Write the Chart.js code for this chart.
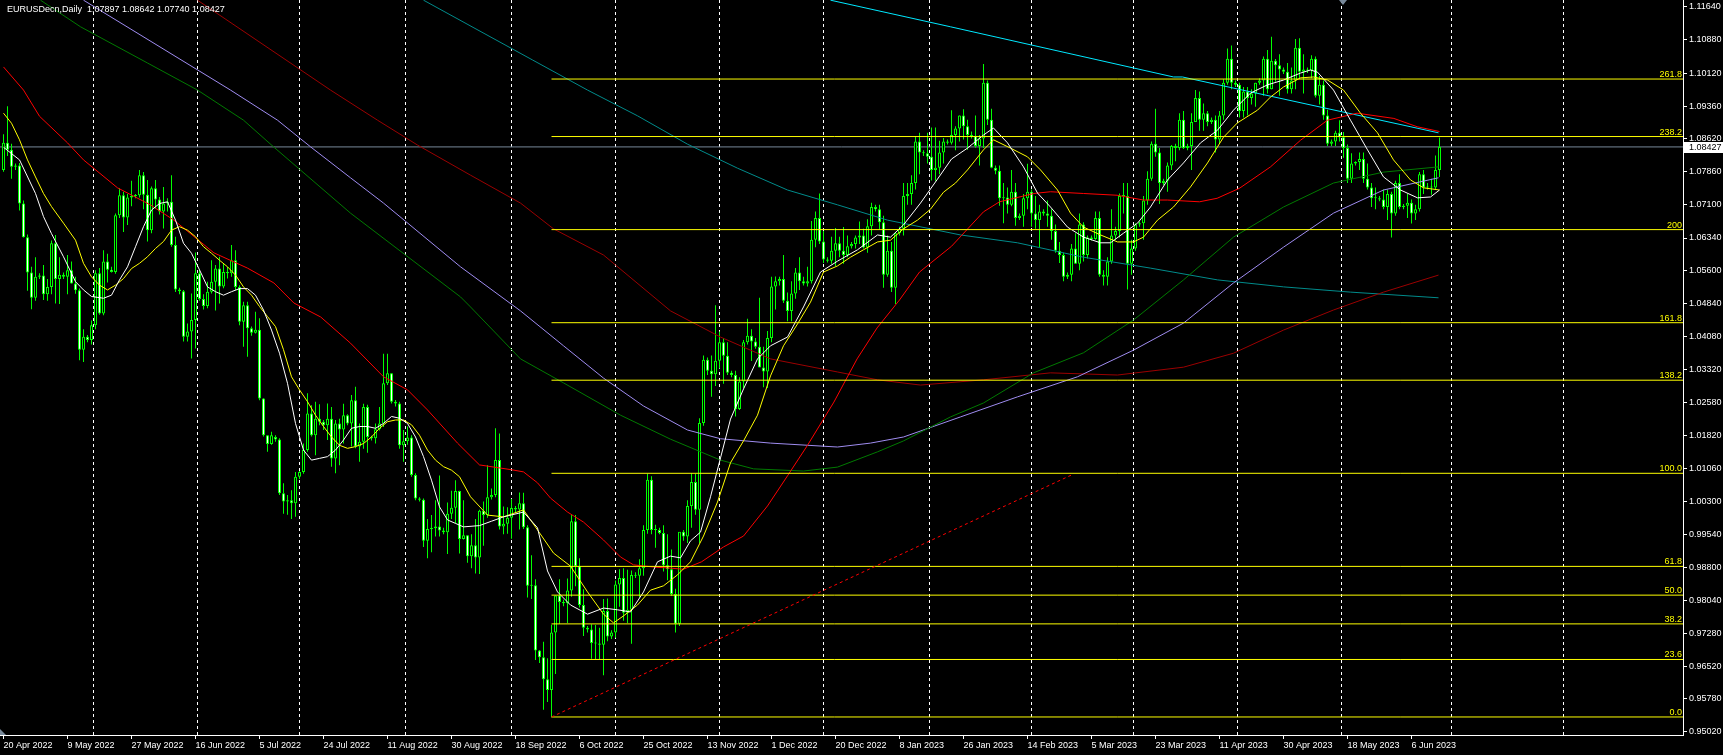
<!DOCTYPE html>
<html>
<head>
<meta charset="utf-8">
<script src="https://cdn.jsdelivr.net/npm/chart.js@4.4.0/dist/chart.umd.min.js"></script>
<style>
  html, body { margin: 0; padding: 0; background: #000; }
  #wrap { width: 1723px; height: 755px; }
</style>
</head>
<body>
<div id="wrap"><canvas id="chart" width="1723" height="755"></canvas></div>
<script>
const symbolTitle = 'EURUSDecn,Daily  1.07897 1.08642 1.07740 1.08427';
const bidPrice = 1.08427;

// x axis: one bar per trading day (Sunday bars included), bar 0 = 20 Apr 2022
const dateTickBars = [0, 16, 32, 48, 64, 80, 96, 112, 128, 144, 160, 176, 192, 208, 224, 240, 256, 272, 288, 304, 320, 336, 352];
const dateLabels = ['20 Apr 2022', '9 May 2022', '27 May 2022', '16 Jun 2022', '5 Jul 2022', '24 Jul 2022', '11 Aug 2022',
  '30 Aug 2022', '18 Sep 2022', '6 Oct 2022', '25 Oct 2022', '13 Nov 2022', '1 Dec 2022', '20 Dec 2022', '8 Jan 2023',
  '26 Jan 2023', '14 Feb 2023', '5 Mar 2023', '23 Mar 2023', '11 Apr 2023', '30 Apr 2023', '18 May 2023', '6 Jun 2023'];
const monthStartBars = [9, 36, 61, 87, 114, 140, 166, 192, 218, 245, 269, 296, 321, 348, 376];

const priceLabels = ['1.11640', '1.10880', '1.10120', '1.09360', '1.08620', '1.07860', '1.07100', '1.06340', '1.05600',
  '1.04840', '1.04080', '1.03320', '1.02580', '1.01820', '1.01060', '1.00300', '0.99540', '0.98800', '0.98040',
  '0.97280', '0.96520', '0.95780', '0.95020'];

// fibonacci expansion drawn from the 28 Sep 2022 low
const fibStartBar = 137;
const fibLow = 0.95364;
const fibHigh = 1.00948;
const fibLevels = [0, 23.6, 38.2, 50, 61.8, 100, 138.2, 161.8, 200, 238.2, 261.8];
const fibLabels = ['0.0', '23.6', '38.2', '50.0', '61.8', '100.0', '138.2', '161.8', '200', '238.2', '261.8'];

const trendLine = [[137, 0.95364], [267, 1.00909]];

// daily candles [open, high, low, close]
const ohlc = [
  [1.0790,1.0872,1.0786,1.0852],[1.0852,1.0936,1.0822,1.0836],[1.0836,1.0850,1.0770,1.0797],
  [1.0797,1.0805,1.0790,1.0800],[1.0800,1.0806,1.0697,1.0713],[1.0713,1.0720,1.0635,1.0636],[1.0636,1.0642,1.0513,1.0555],[1.0555,1.0568,1.0471,1.0497],[1.0497,1.0590,1.0490,1.0545],
  [1.0545,1.0553,1.0540,1.0548],[1.0548,1.0572,1.0492,1.0505],[1.0505,1.0540,1.0490,1.0522],[1.0522,1.0628,1.0505,1.0622],[1.0622,1.0641,1.0484,1.0540],[1.0540,1.0590,1.0483,1.0550],
  [1.0550,1.0555,1.0540,1.0545],[1.0545,1.0595,1.0505,1.0560],[1.0560,1.0580,1.0530,1.0530],[1.0530,1.0545,1.0506,1.0514],[1.0514,1.0518,1.0354,1.0378],[1.0378,1.0425,1.0350,1.0408],
  [1.0408,1.0412,1.0395,1.0400],[1.0400,1.0445,1.0390,1.0434],[1.0434,1.0560,1.0425,1.0553],[1.0553,1.0565,1.0458,1.0461],[1.0461,1.0606,1.0457,1.0580],[1.0580,1.0598,1.0532,1.0561],
  [1.0561,1.0568,1.0555,1.0556],[1.0556,1.0690,1.0552,1.0686],[1.0686,1.0748,1.0680,1.0732],[1.0732,1.0740,1.0648,1.0681],[1.0681,1.0735,1.0664,1.0727],[1.0727,1.0765,1.0707,1.0730],
  [1.0730,1.0735,1.0725,1.0732],[1.0732,1.0790,1.0727,1.0778],[1.0778,1.0785,1.0700,1.0733],[1.0733,1.0767,1.0626,1.0652],[1.0652,1.0752,1.0645,1.0748],[1.0748,1.0767,1.0701,1.0722],
  [1.0722,1.0728,1.0688,1.0695],[1.0695,1.0751,1.0656,1.0713],[1.0713,1.0725,1.0695,1.0717],[1.0717,1.0778,1.0614,1.0618],[1.0618,1.0637,1.0510,1.0516],
  [1.0516,1.0520,1.0505,1.0512],[1.0512,1.0515,1.0397,1.0408],[1.0408,1.0438,1.0397,1.0420],[1.0420,1.0507,1.0358,1.0446],[1.0446,1.0601,1.0381,1.0553],[1.0553,1.0561,1.0490,1.0494],
  [1.0494,1.0505,1.0470,1.0478],[1.0478,1.0534,1.0473,1.0511],[1.0511,1.0583,1.0507,1.0534],[1.0534,1.0572,1.0468,1.0564],[1.0564,1.0591,1.0484,1.0523],[1.0523,1.0575,1.0519,1.0556],
  [1.0556,1.0568,1.0541,1.0553],[1.0553,1.0618,1.0545,1.0583],[1.0583,1.0606,1.0515,1.0522],[1.0522,1.0526,1.0434,1.0442],[1.0442,1.0488,1.0385,1.0480],[1.0480,1.0488,1.0362,1.0427],
  [1.0427,1.0431,1.0410,1.0417],[1.0417,1.0465,1.0415,1.0424],[1.0424,1.0450,1.0262,1.0266],[1.0266,1.0267,1.0179,1.0182],[1.0182,1.0182,1.0144,1.0162],[1.0162,1.0190,1.0160,1.0182],
  [1.0178,1.0182,1.0167,1.0172],[1.0172,1.0175,1.0045,1.0049],[1.0049,1.0072,1.0002,1.0030],[1.0030,1.0045,1.0000,1.0033],[1.0033,1.0056,0.9990,1.0026],[1.0026,1.0098,0.9995,1.0087],
  [1.0087,1.0100,1.0082,1.0098],[1.0098,1.0163,1.0094,1.0148],[1.0148,1.0278,1.0144,1.0232],[1.0232,1.0251,1.0179,1.0182],[1.0182,1.0259,1.0136,1.0220],[1.0220,1.0253,1.0205,1.0213],
  [1.0213,1.0217,1.0194,1.0205],[1.0205,1.0255,1.0171,1.0220],[1.0220,1.0247,1.0110,1.0129],[1.0129,1.0217,1.0095,1.0209],[1.0209,1.0220,1.0113,1.0195],[1.0195,1.0254,1.0163,1.0228],
  [1.0228,1.0230,1.0205,1.0209],[1.0209,1.0274,1.0156,1.0262],[1.0262,1.0293,1.0152,1.0156],[1.0156,1.0209,1.0121,1.0167],[1.0167,1.0254,1.0151,1.0247],[1.0247,1.0252,1.0142,1.0178],
  [1.0178,1.0181,1.0170,1.0175],[1.0175,1.0209,1.0163,1.0196],[1.0196,1.0247,1.0193,1.0209],[1.0209,1.0369,1.0201,1.0301],[1.0301,1.0369,1.0297,1.0324],[1.0324,1.0324,1.0255,1.0259],
  [1.0259,1.0263,1.0248,1.0255],[1.0255,1.0259,1.0151,1.0159],[1.0159,1.0194,1.0121,1.0168],[1.0168,1.0202,1.0160,1.0177],[1.0177,1.0182,1.0087,1.0091],[1.0091,1.0095,1.0033,1.0037],
  [1.0037,1.0040,1.0030,1.0034],[1.0034,1.0037,0.9926,0.9940],[0.9940,0.9990,0.9900,0.9967],[0.9967,0.9999,0.9914,0.9969],[0.9969,1.0033,0.9950,0.9973],[0.9973,1.0090,0.9950,0.9964],
  [0.9964,0.9970,0.9955,0.9960],[0.9960,1.0028,0.9910,1.0002],[1.0002,1.0055,0.9990,1.0016],[1.0016,1.0079,0.9980,1.0054],[1.0054,1.0055,0.9911,0.9944],[0.9944,1.0033,0.9943,0.9953],
  [0.9953,0.9953,0.9890,0.9905],[0.9905,0.9955,0.9877,0.9930],[0.9930,0.9990,0.9865,0.9902],[0.9902,1.0011,0.9864,1.0009],[1.0009,1.0030,0.9929,0.9999],[0.9999,1.0113,0.9993,1.0040],
  [1.0040,1.0060,1.0035,1.0045],[1.0045,1.0198,1.0040,1.0125],[1.0125,1.0186,0.9966,0.9973],[0.9973,1.0019,0.9955,0.9979],[0.9979,1.0017,0.9956,0.9993],[0.9993,1.0036,0.9945,1.0015],
  [1.0015,1.0020,1.0005,1.0012],[1.0012,1.0051,0.9966,1.0026],[1.0026,1.0050,0.9967,0.9971],[0.9971,0.9976,0.9810,0.9837],[0.9837,0.9907,0.9807,0.9838],[0.9838,0.9852,0.9667,0.9689],
  [0.9689,0.9690,0.9660,0.9673],[0.9673,0.9709,0.9553,0.9623],[0.9623,0.9671,0.9571,0.9598],[0.9598,0.9748,0.9536,0.9730],[0.9730,0.9815,0.9635,0.9815],[0.9815,0.9852,0.9750,0.9800],
  [0.9800,0.9805,0.9790,0.9797],[0.9797,0.9854,0.9752,0.9826],[0.9826,0.9999,0.9812,0.9985],[0.9985,0.9999,0.9836,0.9882],[0.9882,0.9900,0.9787,0.9793],[0.9793,0.9829,0.9722,0.9741],
  [0.9741,0.9745,0.9730,0.9737],[0.9737,0.9749,0.9670,0.9706],[0.9706,0.9747,0.9669,0.9705],[0.9705,0.9741,0.9668,0.9702],[0.9702,0.9807,0.9632,0.9779],[0.9779,0.9808,0.9710,0.9721],
  [0.9721,0.9735,0.9715,0.9730],[0.9730,0.9849,0.9718,0.9840],[0.9840,0.9875,0.9789,0.9855],[0.9855,0.9877,0.9757,0.9775],[0.9775,0.9874,0.9752,0.9782],[0.9782,0.9872,0.9704,0.9862],
  [0.9862,0.9868,0.9855,0.9860],[0.9860,0.9898,0.9810,0.9877],[0.9877,0.9976,0.9860,0.9965],[0.9965,1.0094,0.9956,1.0080],[1.0080,1.0088,0.9955,0.9965],[0.9965,0.9977,0.9924,0.9965],
  [0.9965,0.9970,0.9955,0.9958],[0.9958,0.9976,0.9870,0.9884],[0.9884,0.9955,0.9850,0.9875],[0.9875,0.9920,0.9814,0.9818],[0.9818,0.9830,0.9730,0.9750],[0.9750,0.9960,0.9745,0.9961],
  [0.9961,0.9965,0.9940,0.9950],[0.9950,1.0033,0.9935,1.0020],[1.0020,1.0095,0.9970,1.0075],[1.0075,1.0094,1.0000,1.0011],[1.0011,1.0221,0.9935,1.0210],[1.0210,1.0365,1.0204,1.0355],
  [1.0355,1.0360,1.0320,1.0330],[1.0330,1.0365,1.0270,1.0322],[1.0322,1.0480,1.0295,1.0353],[1.0353,1.0420,1.0335,1.0395],[1.0395,1.0405,1.0300,1.0364],[1.0364,1.0395,1.0320,1.0325],
  [1.0325,1.0330,1.0315,1.0320],[1.0320,1.0330,1.0225,1.0242],[1.0242,1.0315,1.0240,1.0305],[1.0305,1.0400,1.0290,1.0395],[1.0395,1.0449,1.0390,1.0410],[1.0410,1.0425,1.0352,1.0397],
  [1.0397,1.0405,1.0380,1.0385],[1.0385,1.0497,1.0338,1.0337],[1.0337,1.0385,1.0292,1.0328],[1.0328,1.0421,1.0290,1.0405],[1.0405,1.0545,1.0395,1.0523],[1.0523,1.0546,1.0470,1.0535],
  [1.0535,1.0545,1.0525,1.0540],[1.0540,1.0595,1.0485,1.0490],[1.0490,1.0509,1.0443,1.0467],[1.0467,1.0535,1.0443,1.0507],[1.0507,1.0565,1.0495,1.0555],[1.0555,1.0590,1.0515,1.0535],
  [1.0535,1.0545,1.0525,1.0530],[1.0530,1.0568,1.0523,1.0535],[1.0535,1.0673,1.0530,1.0630],[1.0630,1.0695,1.0613,1.0680],[1.0680,1.0736,1.0620,1.0626],[1.0626,1.0650,1.0577,1.0585],
  [1.0585,1.0590,1.0578,1.0582],[1.0582,1.0637,1.0575,1.0605],[1.0605,1.0657,1.0570,1.0622],[1.0622,1.0637,1.0590,1.0605],[1.0605,1.0659,1.0575,1.0595],[1.0595,1.0640,1.0590,1.0615],
  [1.0615,1.0625,1.0610,1.0620],[1.0620,1.0640,1.0610,1.0635],[1.0635,1.0672,1.0620,1.0640],[1.0640,1.0655,1.0610,1.0612],[1.0612,1.0677,1.0600,1.0661],[1.0661,1.0715,1.0640,1.0705],
  [1.0705,1.0710,1.0695,1.0700],[1.0700,1.0710,1.0653,1.0670],[1.0670,1.0685,1.0520,1.0550],[1.0550,1.0640,1.0545,1.0605],[1.0605,1.0625,1.0510,1.0520],[1.0520,1.0648,1.0483,1.0645],
  [1.0645,1.0660,1.0640,1.0655],[1.0655,1.0760,1.0640,1.0730],[1.0730,1.0760,1.0710,1.0735],[1.0735,1.0778,1.0710,1.0760],[1.0760,1.0868,1.0745,1.0855],[1.0855,1.0875,1.0780,1.0830],
  [1.0830,1.0835,1.0822,1.0828],[1.0828,1.0875,1.0805,1.0820],[1.0820,1.0887,1.0766,1.0790],[1.0790,1.0887,1.0765,1.0795],[1.0795,1.0857,1.0780,1.0830],[1.0830,1.0863,1.0805,1.0855],
  [1.0855,1.0860,1.0848,1.0852],[1.0852,1.0927,1.0848,1.0870],[1.0870,1.0890,1.0835,1.0885],[1.0885,1.0915,1.0855,1.0915],[1.0915,1.0929,1.0860,1.0890],[1.0890,1.0905,1.0836,1.0870],
  [1.0870,1.0878,1.0862,1.0868],[1.0868,1.0915,1.0841,1.0845],[1.0845,1.0870,1.0800,1.0862],[1.0862,1.1033,1.0840,1.0990],[1.0990,1.0995,1.0893,1.0905],[1.0905,1.0930,1.0794,1.0795],
  [1.0795,1.0800,1.0780,1.0788],[1.0788,1.0800,1.0708,1.0725],[1.0725,1.0760,1.0668,1.0727],[1.0727,1.0750,1.0690,1.0710],[1.0710,1.0790,1.0707,1.0740],[1.0740,1.0760,1.0662,1.0680],
  [1.0680,1.0690,1.0675,1.0685],[1.0685,1.0735,1.0660,1.0725],[1.0725,1.0804,1.0700,1.0740],[1.0740,1.0745,1.0660,1.0690],[1.0690,1.0730,1.0655,1.0675],[1.0675,1.0710,1.0613,1.0695],
  [1.0695,1.0700,1.0685,1.0690],[1.0690,1.0720,1.0660,1.0685],[1.0685,1.0700,1.0630,1.0650],[1.0650,1.0665,1.0600,1.0605],[1.0605,1.0625,1.0577,1.0595],[1.0595,1.0600,1.0535,1.0545],
  [1.0545,1.0555,1.0540,1.0550],[1.0550,1.0620,1.0535,1.0610],[1.0610,1.0645,1.0575,1.0575],[1.0575,1.0690,1.0560,1.0665],[1.0665,1.0670,1.0580,1.0595],[1.0595,1.0640,1.0587,1.0635],
  [1.0635,1.0640,1.0628,1.0632],[1.0632,1.0695,1.0630,1.0680],[1.0680,1.0695,1.0545,1.0550],[1.0550,1.0560,1.0525,1.0545],[1.0545,1.0590,1.0525,1.0580],[1.0580,1.0700,1.0575,1.0640],
  [1.0640,1.0660,1.0630,1.0650],[1.0650,1.0736,1.0635,1.0730],[1.0730,1.0760,1.0690,1.0730],[1.0730,1.0760,1.0516,1.0575],[1.0575,1.0630,1.0550,1.0610],[1.0610,1.0668,1.0605,1.0665],
  [1.0665,1.0672,1.0660,1.0668],[1.0668,1.0730,1.0630,1.0720],[1.0720,1.0787,1.0710,1.0770],[1.0770,1.0855,1.0765,1.0850],[1.0850,1.0930,1.0820,1.0830],[1.0830,1.0840,1.0712,1.0760],
  [1.0760,1.0770,1.0755,1.0765],[1.0765,1.0807,1.0740,1.0800],[1.0800,1.0847,1.0790,1.0845],[1.0845,1.0850,1.0810,1.0840],[1.0840,1.0920,1.0835,1.0905],[1.0905,1.0925,1.0838,1.0840],
  [1.0840,1.0850,1.0835,1.0845],[1.0845,1.0920,1.0790,1.0900],[1.0900,1.0973,1.0900,1.0955],[1.0955,1.0970,1.0880,1.0905],[1.0905,1.0942,1.0880,1.0920],[1.0920,1.0925,1.0890,1.0900],
  [1.0900,1.0910,1.0895,1.0905],[1.0905,1.0915,1.0830,1.0860],[1.0860,1.0925,1.0850,1.0915],[1.0915,1.0998,1.0905,1.0990],[1.0990,1.1068,1.0985,1.1045],[1.1045,1.1075,1.0975,1.0990],
  [1.0990,1.0995,1.0980,1.0985],[1.0985,1.0990,1.0910,1.0925],[1.0925,1.0980,1.0910,1.0970],[1.0970,1.0980,1.0915,1.0955],[1.0955,1.0975,1.0940,1.0965],[1.0965,1.0990,1.0935,1.0990],
  [1.0990,1.1000,1.0985,1.0995],[1.0995,1.1050,1.0960,1.1045],[1.1045,1.1065,1.0965,1.0975],[1.0975,1.1095,1.0975,1.1040],[1.1040,1.1044,1.0992,1.1030],[1.1030,1.1055,1.0960,1.1020],
  [1.1020,1.1025,1.1010,1.1015],[1.1015,1.1035,1.0965,1.0975],[1.0975,1.1025,1.0965,1.0995],[1.0995,1.1090,1.0975,1.1070],[1.1070,1.1092,1.0998,1.1015],[1.1015,1.1055,1.0965,1.1020],
  [1.1020,1.1025,1.1012,1.1018],[1.1018,1.1053,1.1000,1.1045],[1.1045,1.1050,1.0956,1.0960],[1.0960,1.1005,1.0940,1.0985],[1.0985,1.0995,1.0905,1.0915],[1.0915,1.0928,1.0845,1.0850],
  [1.0850,1.0860,1.0845,1.0855],[1.0855,1.0880,1.0845,1.0875],[1.0875,1.0904,1.0855,1.0865],[1.0865,1.0877,1.0818,1.0840],[1.0840,1.0848,1.0760,1.0770],[1.0770,1.0828,1.0760,1.0805],
  [1.0805,1.0810,1.0800,1.0808],[1.0808,1.0830,1.0790,1.0815],[1.0815,1.0830,1.0760,1.0770],[1.0770,1.0805,1.0745,1.0750],[1.0750,1.0760,1.0705,1.0725],[1.0725,1.0750,1.0700,1.0725],
  [1.0725,1.0730,1.0718,1.0722],[1.0722,1.0745,1.0700,1.0705],[1.0705,1.0745,1.0675,1.0735],[1.0735,1.0740,1.0635,1.0690],[1.0690,1.0765,1.0685,1.0760],[1.0760,1.0780,1.0700,1.0705],
  [1.0705,1.0712,1.0700,1.0708],[1.0708,1.0735,1.0680,1.0715],[1.0715,1.0722,1.0667,1.0690],[1.0690,1.0710,1.0675,1.0700],[1.0700,1.0785,1.0695,1.0780],[1.0780,1.0790,1.0735,1.0750],
  [1.0750,1.0760,1.0745,1.0752],[1.0752,1.0770,1.0733,1.0750],[1.0750,1.0823,1.0745,1.0790],[1.07897,1.08642,1.07740,1.08427]
];

// moving averages as [bar, price]
const maWhite = [[0,1.0842],[4,1.0813],[8,1.0736],[10,1.0683],[12,1.0644],[15,1.0591],[18,1.0534],[20,1.0515],[22,1.0500],[25,1.0496],
  [27,1.0503],[29,1.0538],[31,1.0568],[33,1.0614],[35,1.0660],[37,1.0698],[39,1.0713],[41,1.0717],[43,1.0675],[45,1.0622],[47,1.0599],
  [49,1.0561],[51,1.0522],[53,1.0511],[55,1.0503],[57,1.0511],[59,1.0518],[61,1.0518],[63,1.0503],[65,1.0469],[67,1.0423],[69,1.0370],
  [71,1.0301],[73,1.0209],[75,1.0148],[77,1.0125],[79,1.0129],[81,1.0133],[83,1.0148],[85,1.0171],[87,1.0198],[89,1.0202],[91,1.0202],
  [93,1.0198],[95,1.0209],[97,1.0225],[99,1.0221],[101,1.0209],[103,1.0178],[105,1.0133],[107,1.0079],[109,1.0018],[111,0.9988],
  [113,0.9980],[115,0.9972],[119,0.9975],[122,0.9985],[125,0.9995],[130,1.0006],[133.5,0.9970],[136,0.9871],[138.5,0.9823],[141.75,0.9793],
  [146,0.9772],[150,0.9786],[153.5,0.9782],[156.75,0.9777],[160,0.9823],[163.5,0.9892],[166.75,0.9905],[169.25,0.9901],[171.75,0.9940],
  [174.25,0.9960],[176.75,1.0041],[179.25,1.0130],[181.75,1.0219],[185,1.0288],[188.5,1.0357],[191.75,1.0387],[196,1.0407],[200,1.0476],
  [204.25,1.0556],[208.5,1.0581],[213.5,1.0607],[218.5,1.0641],[221.75,1.0636],[225,1.0664],[229.25,1.0714],[233.5,1.0769],[237,1.0815],
  [241,1.0840],[245,1.0870],[247.5,1.0886],[251,1.0852],[255,1.0797],[258.5,1.0737],[261.75,1.0705],[266,1.0659],[270,1.0636],[274.25,1.0623],
  [276.75,1.0623],[280,1.0645],[283.5,1.0668],[286.75,1.0705],[291,1.0767],[295,1.0806],[299.25,1.0852],[303.5,1.0881],[307.5,1.0927],
  [311.75,1.0966],[316,1.0985],[320,1.0996],[324.25,1.1012],[326.75,1.1019],[328.5,1.1014],[332.5,1.0973],[336.75,1.0904],[341,1.0836],
  [345,1.0774],[349.25,1.0744],[353.5,1.0726],[356.75,1.0728],[359,1.0744]];
const maYellow = [[0,1.0920],[2,1.0897],[4,1.0859],[6,1.0813],[8,1.0774],[10,1.0736],[12,1.0706],[15,1.0668],[18,1.0629],[20,1.0576],
  [22,1.0545],[24,1.0526],[26,1.0515],[28,1.0526],[30,1.0541],[32,1.0564],[34,1.0576],[36,1.0591],[38,1.0610],[40,1.0626],[42,1.0652],
  [44,1.0660],[46,1.0652],[48,1.0637],[50,1.0614],[52,1.0599],[54,1.0583],[56,1.0568],[58,1.0549],[60,1.0522],[62,1.0503],[64,1.0477],
  [66,1.0454],[68,1.0431],[70,1.0378],[72,1.0316],[74,1.0286],[76,1.0259],[78,1.0228],[80,1.0202],[82,1.0178],[84,1.0159],[86,1.0152],
  [88,1.0156],[90,1.0163],[92,1.0178],[94,1.0198],[96,1.0213],[98,1.0217],[100,1.0217],[102,1.0206],[104,1.0182],[106,1.0148],[108,1.0125],
  [110,1.0110],[112,1.0102],[114,1.0087],[116.75,1.0041],[121,0.9999],[125,0.9995],[130,1.0011],[133.5,0.9965],[137.5,0.9912],[141.75,0.9882],
  [146,0.9823],[150,0.9772],[152.5,0.9752],[155,0.9768],[158.5,0.9793],[161.75,0.9827],[165,0.9837],[168.5,0.9862],[171.75,0.9892],
  [175,0.9951],[178.5,1.0029],[181.75,1.0119],[185,1.0169],[188.5,1.0228],[191.75,1.0318],[195,1.0387],[198.5,1.0437],[201.75,1.0487],
  [205,1.0556],[208.5,1.0570],[211.75,1.0590],[215,1.0607],[218.5,1.0625],[221.75,1.0629],[225,1.0655],[228.5,1.0675],[231.75,1.0700],
  [235,1.0739],[238,1.0760],[241,1.0790],[245,1.0836],[247.5,1.0859],[251.75,1.0840],[256,1.0820],[259.25,1.0790],[263.5,1.0744],
  [266.75,1.0691],[270,1.0659],[274.25,1.0641],[278.5,1.0625],[282.5,1.0625],[285,1.0636],[288.5,1.0675],[292.5,1.0705],[296.75,1.0751],
  [301,1.0806],[305,1.0865],[308.5,1.0898],[313.5,1.0927],[316.75,1.0957],[320,1.0980],[324.25,1.1001],[327.5,1.1003],[331,1.0996],
  [335,1.0973],[339.25,1.0920],[343.5,1.0875],[347.5,1.0813],[351.75,1.0767],[355,1.0749],[359,1.0744]];
const maRed = [[0,1.1026],[5,1.0973],[9,1.0913],[16,1.0852],[20,1.0813],[28.5,1.0749],[36.7,1.0710],[42.6,1.0675],[52.6,1.0600],
  [61,1.0565],[67.6,1.0531],[72.6,1.0485],[79.3,1.0453],[86.75,1.0393],[95,1.0316],[101,1.0286],[106,1.0240],[113.5,1.0164],[119,1.0114],
  [127,1.0103],[130,1.0098],[133.5,1.0073],[136.75,1.0038],[141,1.0006],[145,0.9983],[150,0.9942],[154.25,0.9903],[157.5,0.9885],
  [162.5,0.9880],[166,0.9878],[170,0.9875],[174.5,0.9892],[180,0.9926],[185,0.9951],[191,1.0020],[196,1.0089],[201,1.0159],[207.6,1.0258],
  [213.4,1.0357],[218.4,1.0428],[224,1.0492],[229,1.0556],[237,1.0615],[245,1.0694],[249,1.0717],[257.6,1.0736],[261.75,1.0740],
  [270,1.0736],[278.4,1.0732],[285,1.0721],[291,1.0721],[299,1.0717],[303.4,1.0725],[309,1.0748],[316.75,1.0797],[324.25,1.0858],
  [331,1.0904],[338.4,1.0920],[347.6,1.0908],[353.4,1.0889],[359,1.0878]];
const maGreen = [[9.25,1.1179],[19.25,1.1118],[36,1.1035],[48.5,1.0973],[60,1.0904],[67.5,1.0843],[86.75,1.0691],[114.25,1.0499],
  [116.75,1.0476],[129.25,1.0357],[140,1.0302],[154.25,1.0228],[166.75,1.0173],[179.25,1.0125],[187.5,1.0105],[200,1.0100],[208.5,1.0109],
  [218.5,1.0144],[225,1.0169],[236.75,1.0224],[245,1.0256],[257.5,1.0325],[270,1.0371],[282.5,1.0446],[295,1.0538],[307.5,1.0636],
  [320,1.0705],[332.5,1.0760],[345,1.0785],[358.75,1.0797]];
const maPurple = [[20,1.1179],[56.75,1.0973],[68.5,1.0904],[76.75,1.0843],[86.75,1.0772],[95,1.0714],[114.25,1.0568],[129.25,1.0467],
  [140,1.0387],[150,1.0313],[160,1.0249],[171,1.0194],[179.25,1.0174],[191.75,1.0164],[208.5,1.0155],[216.75,1.0164],[225,1.0178],
  [239.25,1.0224],[253.5,1.0270],[268.5,1.0316],[282.5,1.0377],[295,1.0439],[307.5,1.0531],[320,1.0613],[332.5,1.0691],[345,1.0744],
  [358.75,1.0772]];
const maDarkRed = [[48.5,1.1179],[81.75,1.0973],[93.5,1.0904],[103.5,1.0847],[116.75,1.0778],[129.25,1.0714],[137.5,1.0655],[150,1.0595],
  [166.75,1.0467],[179.25,1.0407],[191.75,1.0357],[208.5,1.0327],[218.5,1.0309],[229.25,1.0297],[245,1.0309],[261.75,1.0325],
  [278.5,1.0320],[295,1.0338],[307.5,1.0370],[320,1.0423],[332.5,1.0469],[345,1.0510],[358.75,1.0549]];
const maTeal = [[105,1.1179],[132.25,1.1042],[146,1.0973],[158.5,1.0914],[171,1.0849],[183.5,1.0794],[196,1.0744],[208.5,1.0710],
  [221,1.0675],[239.25,1.0641],[253.5,1.0623],[270,1.0590],[286.75,1.0565],[303.5,1.0538],[320,1.0522],[336.75,1.0510],[358.75,1.0497]];
const maAqua = [[206.75,1.1179],[236.75,1.1118],[292.5,1.1003],[294.75,1.1003],[358.75,1.0875]];

// ---- chart ----
const X_MIN = -0.875;
const X_MAX = X_MIN + 1683 / 4;
const Y_MIN = 0.94951;
const Y_MAX = 1.11794;
const FONT = { family: '"Liberation Sans", Arial, sans-serif', size: 9 };

const toPoints = arr => arr.map(([x, y]) => ({ x, y }));

function maLine(label, points, color) {
  return { type: 'line', label, data: toPoints(points), borderColor: color, borderWidth: 1,
    pointRadius: 0, tension: 0, fill: false, order: 2 };
}

const fibSets = fibLevels.map((lv, k) => {
  const price = fibLow + (fibHigh - fibLow) * lv / 100;
  return { type: 'line', label: 'fib ' + fibLabels[k], data: [{ x: fibStartBar, y: price }, { x: X_MAX, y: price }],
    borderColor: '#ffff00', borderWidth: 1, pointRadius: 0, order: 1 };
});

const overlay = {
  id: 'overlay',
  afterDatasetsDraw(chart) {
    const { ctx, chartArea, scales } = chart;
    const y = scales.y;
    ctx.save();
    ctx.font = '9px "Liberation Sans", Arial, sans-serif';
    ctx.textBaseline = 'alphabetic';

    ctx.fillStyle = '#ffff00';
    ctx.textAlign = 'right';
    fibLevels.forEach((lv, k) => {
      const py = y.getPixelForValue(fibLow + (fibHigh - fibLow) * lv / 100);
      ctx.fillText(fibLabels[k], chartArea.right - 1, py - 2);
    });

    ctx.fillStyle = '#ffffff';
    ctx.textAlign = 'left';
    ctx.fillText(symbolTitle, 7, 12);

    const by = Math.round(y.getPixelForValue(bidPrice));
    ctx.fillStyle = '#ffffff';
    ctx.fillRect(chartArea.right + 1, by - 5, 40, 11);
    ctx.fillStyle = '#000000';
    ctx.textBaseline = 'middle';
    ctx.fillText(bidPrice.toFixed(5), chartArea.right + 6, by + 1);

    // chart shift marker and corner marker
    ctx.fillStyle = '#778899';
    const mx = chartArea.right - 340;
    ctx.beginPath(); ctx.moveTo(mx - 4, 0); ctx.lineTo(mx + 4, 0); ctx.lineTo(mx, 5); ctx.closePath(); ctx.fill();
    ctx.beginPath(); ctx.moveTo(0, chartArea.bottom - 6); ctx.lineTo(6, chartArea.bottom); ctx.lineTo(0, chartArea.bottom); ctx.closePath(); ctx.fill();
    ctx.restore();
  }
};

new Chart(document.getElementById('chart'), {
  type: 'bar',
  data: {
    datasets: [
      { type: 'line', label: 'bid', data: [{ x: X_MIN, y: bidPrice }, { x: X_MAX, y: bidPrice }],
        borderColor: '#778899', borderWidth: 1, pointRadius: 0, order: 6 },
      { label: 'wicks', data: ohlc.map((c, i) => ({ x: i, y: [c[2], c[1]] })), grouped: false,
        barThickness: 1, backgroundColor: '#00ff00', borderWidth: 0, inflateAmount: 0, order: 5 },
      { label: 'bodies', data: ohlc.map((c, i) => ({ x: i, y: [c[0], c[3]] })), grouped: false,
        barThickness: 3, backgroundColor: ohlc.map(c => c[3] < c[0] ? '#ffffff' : '#000000'),
        borderColor: '#00ff00', borderWidth: 1, borderSkipped: false, minBarLength: 1, inflateAmount: 0, order: 4 },
      maLine('MA white', maWhite, '#ffffff'),
      maLine('MA yellow', maYellow, '#ffff00'),
      maLine('MA red', maRed, '#ff0000'),
      maLine('MA green', maGreen, '#007a00'),
      maLine('MA purple', maPurple, '#9f8cf0'),
      maLine('MA dark red', maDarkRed, '#9b0000'),
      maLine('MA teal', maTeal, '#008b8b'),
      maLine('MA aqua', maAqua, '#00e8ff'),
      ...fibSets,
      { type: 'line', label: 'trend', data: toPoints(trendLine), borderColor: '#ff0000', borderWidth: 1,
        borderDash: [3, 3], pointRadius: 0, order: 0 }
    ]
  },
  options: {
    responsive: false,
    devicePixelRatio: 1,
    animation: false,
    layout: { padding: 0 },
    plugins: { legend: { display: false }, tooltip: { enabled: false }, title: { display: false } },
    scales: {
      x: {
        type: 'linear', position: 'bottom', min: X_MIN, max: X_MAX, offset: false, bounds: 'data',
        afterBuildTicks: s => { s.ticks = dateTickBars.map(v => ({ value: v })); },
        afterFit: s => { s.height = 20; s.paddingLeft = 0; s.paddingRight = 0; },
        grid: { display: true, drawOnChartArea: false, drawTicks: true, tickLength: 4, color: '#ffffff', offset: false },
        border: { display: true, color: '#ffffff', width: 1 },
        ticks: { color: '#ffffff', font: FONT, align: 'start', padding: 1, autoSkip: false, maxRotation: 0, minRotation: 0,
          callback: (v, i) => dateLabels[i] }
      },
      xg: {
        type: 'linear', position: 'bottom', min: X_MIN, max: X_MAX, offset: false, bounds: 'data',
        afterBuildTicks: s => { s.ticks = monthStartBars.map(v => ({ value: v })); },
        afterFit: s => { s.height = 0; s.paddingLeft = 0; s.paddingRight = 0; },
        grid: { display: true, drawOnChartArea: true, drawTicks: false, color: '#ffffff', lineWidth: 1 },
        border: { display: false, dash: [3, 3] },
        ticks: { display: false }
      },
      y: {
        type: 'linear', position: 'right', min: Y_MIN, max: Y_MAX, bounds: 'data',
        afterBuildTicks: s => { s.ticks = priceLabels.map(v => ({ value: parseFloat(v) })); },
        afterFit: s => { s.width = 40; s.paddingTop = 0; s.paddingBottom = 0; },
        grid: { display: true, drawOnChartArea: false, drawTicks: true, tickLength: 4, color: '#ffffff' },
        border: { display: true, color: '#ffffff', width: 1 },
        ticks: { color: '#ffffff', font: FONT, padding: 2, autoSkip: false, callback: (v, i) => priceLabels[i] }
      }
    }
  },
  plugins: [overlay]
});
</script>
</body>
</html>
